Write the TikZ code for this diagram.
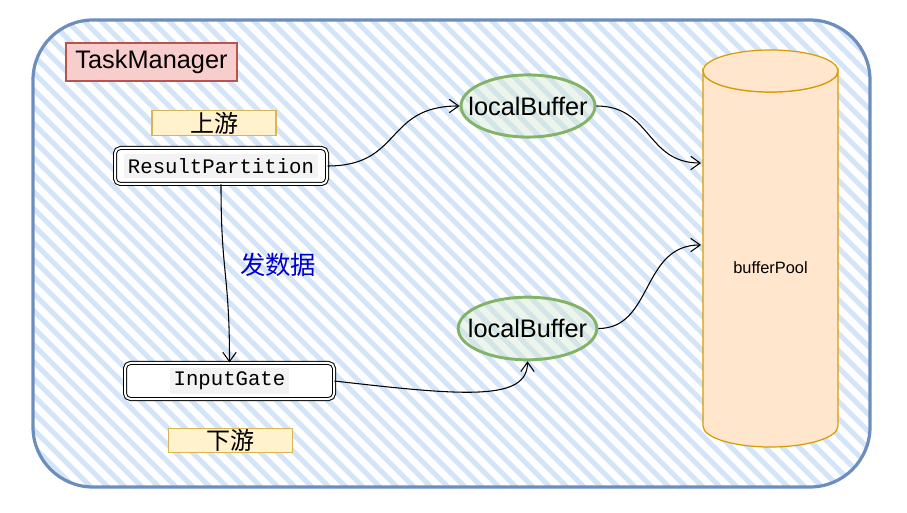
\documentclass[tikz,border=0pt]{standalone}
\usepackage{fontspec}
\setmainfont{Liberation Sans}
\setmonofont{Liberation Mono}
\newfontfamily\cjk{Noto Sans CJK SC}
\usetikzlibrary{arrows.meta,shapes.geometric}
\definecolor{tmborder}{HTML}{6C8EBF}
\definecolor{hatch}{HTML}{D4E4F9}
\definecolor{redfill}{HTML}{F8CECC}
\definecolor{redline}{HTML}{B85450}
\definecolor{yelfill}{HTML}{FFF2CC}
\definecolor{yelline}{HTML}{D6B656}
\definecolor{grnline}{HTML}{82B366}
\definecolor{grnfill}{HTML}{D5E8D4}
\definecolor{orfill}{HTML}{FFE6CC}
\definecolor{orline}{HTML}{D79B00}
\definecolor{lblblue}{HTML}{0000CC}
\definecolor{txtbg}{HTML}{F3F3F3}
\tikzset{
  titlebox/.style={draw=redline, fill=redfill, line width=0.9pt, inner sep=0pt,
    minimum width=128.25pt, minimum height=28.5pt, font=\fontsize{19pt}{22pt}\selectfont},
  tagbox/.style={draw=yelline, fill=yelfill, line width=0.9pt, inner sep=0pt,
    minimum width=93pt, minimum height=18.5pt, font=\cjk\fontsize{18pt}{20pt}\selectfont},
  codebox/.style={draw=black, double=white, double distance=1.5pt, line width=0.75pt,
    rounded corners=4pt, fill=white, inner sep=0pt, minimum height=27pt,
    font=\ttfamily\fontsize{15.5pt}{18pt}\selectfont},
  bufnode/.style={ellipse, draw=grnline, line width=2.2pt, fill=grnfill, fill opacity=0.45,
    text opacity=1, inner xsep=-9.5pt, inner ysep=9.5pt, font=\fontsize{19pt}{22pt}\selectfont},
  conn/.style={draw=black, line width=0.8pt, -{Straight Barb[length=7pt,width=10pt]}},
  hatchline/.style={draw=hatch, line width=3.75pt},
}
\begin{document}
\begin{tikzpicture}[x=0.75pt, y=-0.75pt]
\useasboundingbox (0,0) rectangle (907,513);
% outer container with hatch fill
\begin{scope}
  \clip[rounded corners=45pt] (33,20) rectangle (870,487);
  \foreach \c in {-600,-583,...,920} {
    \draw[hatchline] (\c,0) -- (\c+620,620);
  }
\end{scope}
\draw[tmborder, line width=2.4pt, rounded corners=45pt] (33,20) rectangle (870,487);

% cylinder bufferPool
\draw[orline, fill=orfill, line width=0.9pt]
  (703,71) -- (703,426) arc[start angle=180, end angle=0, x radius=67.5, y radius=21]
  -- (838,71) arc[start angle=0, end angle=180, x radius=67.5, y radius=21] -- cycle;
\draw[orline, fill=orfill, line width=0.9pt] (770.5,71) ellipse[x radius=67.5, y radius=21];
\node[font=\fontsize{12.3pt}{14pt}\selectfont] (pool) at (770.5,268) {bufferPool};
\coordinate (p1) at (701,163);
\coordinate (p2) at (701,245);

% nodes
\node[titlebox] (tm) at (151.5,62) {TaskManager};
\node[tagbox] (up) at (214,123) {上游};
\node[tagbox] (down) at (230.5,440.5) {下游};
\node[codebox, minimum width=159pt] (rp) at (221,166) {\colorbox{txtbg}{ResultPartition}};
\node[codebox, minimum width=156.75pt] (ig) at (229.5,381) {\colorbox{txtbg}{InputGate}};
\node[bufnode, minimum width=100.5pt, minimum height=46.5pt] (lb1) at (528,106) {localBuffer};
\node[bufnode, minimum width=104pt, minimum height=47pt] (lb2) at (527.5,328.5) {localBuffer};
\node[font=\cjk\fontsize{19pt}{22pt}\selectfont, text=lblblue] (lbl) at (278,265) {发数据};

% connectors
\draw[conn] (rp.east) .. controls +(75,0) and +(-75,0) .. (lb1.west);
\draw[conn] (lb1.east) .. controls +(55,0) and +(-55,0) .. (p1);
\draw[conn] (lb2.east) .. controls +(55,0) and +(-60,0) .. (p2);
\draw[conn] (rp.south) .. controls +(0,90) and +(0,-90) .. (ig.north);
\draw[conn] (ig.east) .. controls +(130,15) and +(0,40) .. (lb2.south);
\end{tikzpicture}
\end{document}
